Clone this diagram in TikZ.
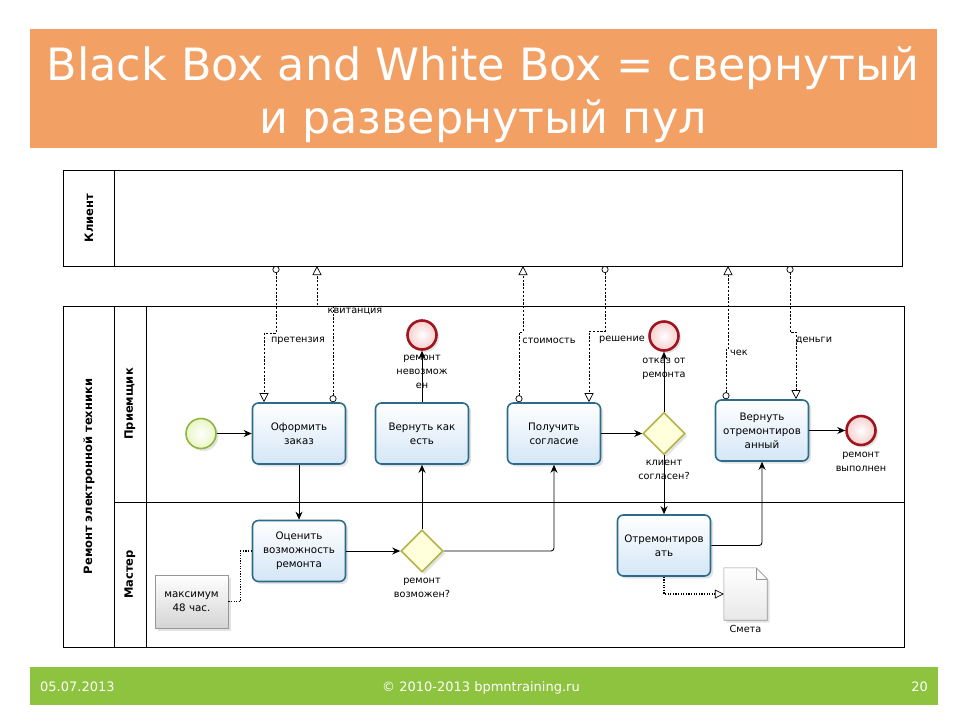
\documentclass[tikz,border=0pt]{standalone}
\usepackage{fontspec}
\setmainfont{DejaVu Sans}
\usetikzlibrary{arrows.meta,shadows,shapes.geometric,calc}
\definecolor{titleorange}{RGB}{243,160,101}
\definecolor{footgreen}{RGB}{141,195,63}
\definecolor{taskborder}{RGB}{44,108,138}
\definecolor{taskfill}{RGB}{212,230,246}
\definecolor{endborder}{RGB}{160,20,30}
\definecolor{endfill}{RGB}{246,206,206}
\definecolor{startborder}{RGB}{140,182,60}
\definecolor{startfill}{RGB}{234,246,196}
\definecolor{gwborder}{RGB}{180,180,70}
\definecolor{gwfill}{RGB}{255,255,220}
\definecolor{anngray}{RGB}{150,150,150}
\begin{document}
\begin{tikzpicture}[x=1pt,y=-1pt,
  shadowed/.style={drop shadow={opacity=0.22,shadow xshift=2.5pt,shadow yshift=-2.5pt}},
  task/.style={draw=taskborder,line width=1.6pt,rounded corners=6pt,top color=white,bottom color=taskfill,
    minimum width=93pt,minimum height=61pt,inner sep=2pt,align=center,
    font=\fontsize{10.3}{14}\selectfont,shadowed},
  endev/.style={circle,draw=endborder,line width=2.6pt,inner color=white,outer color=endfill,minimum size=29pt,inner sep=0pt,shadowed},
  startev/.style={circle,draw=startborder,line width=1.6pt,inner color=white,outer color=startfill,minimum size=30pt,inner sep=0pt,shadowed},
  gw/.style={diamond,aspect=1,draw=gwborder,line width=1.6pt,fill=gwfill,minimum width=42pt,minimum height=42pt,inner sep=0pt,shadowed},
  lbl/.style={font=\fontsize{9.7}{14}\selectfont,align=center,inner sep=1pt},
  lanelabel/.style={font=\bfseries\fontsize{11.5}{14}\selectfont,rotate=90},
  seq/.style={line width=0.9pt,-{Stealth[length=8pt,width=7pt]},rounded corners=3pt},
  msg/.style={line width=0.75pt,dash pattern=on 2.2pt off 1.6pt,
    {Circle[open,fill=white,length=7pt,width=7pt,line width=0.7pt]}-{Triangle[open,fill=white,length=9pt,width=9pt,line width=0.7pt]}},
  assoc/.style={line width=1.4pt,dash pattern=on 1.2pt off 1.4pt},
  dassoc/.style={line width=1.4pt,dash pattern=on 1.2pt off 1.4pt,-{Triangle[open,fill=white,length=9pt,width=9pt,line width=0.7pt]}},
  footer/.style={text=white,font=\fontsize{13}{15}\selectfont,inner sep=0pt},
  titletext/.style={anchor=base,text=white,font=\fontsize{44.5}{52}\selectfont,inner sep=0pt},
]
\useasboundingbox (0,0) rectangle (960,720);
\fill[white] (0,0) rectangle (960,720);

% title
\node[fill=titleorange,minimum width=907pt,minimum height=119pt,inner sep=0pt] (titlebox) at (483.5,88.5) {};
\node[titletext] (title1) at (483,80) {Black Box and White Box = свернутый};
\node[titletext] (title2) at (483,133) {и развернутый пул};

% client pool
\node[draw,line width=1pt,minimum width=839pt,minimum height=96pt,inner sep=0pt] (client) at (482.5,218) {};
\draw[line width=1pt] (114,170) -- (114,266);
\node[lanelabel] (lclient) at (89,218) {Клиент};

% main pool
\node[draw,line width=1pt,minimum width=841pt,minimum height=341pt,inner sep=0pt] (pool) at (483.5,476.5) {};
\draw[line width=1pt] (114,306) -- (114,647);
\draw[line width=0.8pt] (146,306) -- (146,647);
\draw[line width=0.8pt] (114,502) -- (904,502);
\node[lanelabel] (lpool) at (89,476.5) {Ремонт электронной техники};
\node[lanelabel] (lane1) at (130,404) {Приемщик};
\node[lanelabel] (lane2) at (130,574.5) {Мастер};

% flow objects
\node[startev] (start) at (201,433.5) {};
\node[task] (ofz) at (299,433.5) {Оформить\\заказ};
\node[task] (vke) at (422,433.5) {Вернуть как\\есть};
\node[endev] (end1) at (422,335) {};
\node[lbl,anchor=north] (lend1) at (422,354) {ремонт\\невозмож\\ен};
\node[task] (pol) at (554,433.5) {Получить\\согласие};
\node[gw] (gw2) at (664,433.5) {};
\node[lbl,anchor=north] (lgw2) at (664,459) {клиент\\согласен?};
\node[endev] (end2) at (664,336) {};
\node[lbl,anchor=north] (lend2) at (664,357) {отказ от\\ремонта};
\node[task] (vot) at (762,430.5) {Вернуть\\отремонтиров\\анный};
\node[endev] (end3) at (861,430.5) {};
\node[lbl,anchor=north] (lend3) at (861,451) {ремонт\\выполнен};
\node[task] (ocen) at (299,551) {Оценить\\возможность\\ремонта};
\node[gw] (gw1) at (422,551) {};
\node[lbl,anchor=north] (lgw1) at (422,577) {ремонт\\возможен?};
\node[task] (otr) at (664,545.5) {Отремонтиров\\ать};

% annotation
\node[draw=anngray,line width=0.6pt,top color=white,bottom color={rgb,255:red,212;green,212;blue,212},
  minimum width=73pt,minimum height=53pt,inner sep=1pt,align=center,font=\fontsize{10.3}{14}\selectfont,shadowed] (ann) at (191.5,601.5) {максимум\\48 час.};

% data object
\node[minimum width=43pt,minimum height=52pt,inner sep=0pt] (smeta) at (745.5,594) {};
\draw[draw=anngray,line width=0.6pt,top color=white,bottom color={rgb,255:red,232;green,232;blue,232},shadowed]
  (smeta.north west) -- ([xshift=-11pt]smeta.north east) -- ([yshift=-11pt]smeta.north east) -- (smeta.south east) -- (smeta.south west) -- cycle;
\draw[draw=anngray,line width=0.6pt] ([xshift=-11pt]smeta.north east) -- ([xshift=-11pt,yshift=-11pt]smeta.north east) -- ([yshift=-11pt]smeta.north east);
\node[lbl,anchor=north] (lsmeta) at (745.5,624) {Смета};

% sequence flows
\draw[seq] (start) -- (ofz);
\draw[seq] (ofz) -- (ocen);
\draw[seq] (ocen) -- (gw1);
\draw[seq] (gw1) -- (vke);
\draw[seq] (gw1.east) -| (pol.south);
\draw[seq] (vke) -- (end1);
\draw[seq] (pol) -- (gw2);
\draw[seq] (gw2) -- (end2);
\draw[seq] (gw2) -- (otr);
\draw[seq] (otr.east) -| (vot.south);
\draw[seq] (vot) -- (end3);

% associations
\draw[assoc] (ann.east) -- ++(12,0) |- (ocen.west);
\draw[dassoc] (otr.south) |- (smeta.west);

% message flows
\coordinate (cp1) at (276,266);
\coordinate (cq1) at (317,266);
\coordinate (cs1) at (523,266);
\coordinate (cr1) at (605,266);
\coordinate (cc1) at (728,266);
\coordinate (cd1) at (790,266);
\draw[msg] (cp1) -- ++(0,67) -| ([xshift=-35pt]ofz.north);
\draw[msg] ([xshift=34pt]ofz.north) -- ++(0,-96) -| (cq1);
\draw[msg] ([xshift=-35pt]pol.north) -- ++(0,-70) -| (cs1);
\draw[msg] (cr1) -- ++(0,65) -| ([xshift=35pt]pol.north);
\draw[msg] ([xshift=-36pt]vot.north) -- ++(0,-50) -| (cc1);
\draw[msg] (cd1) -- ++(0,66) -| ([xshift=34pt]vot.north);

\node[lbl] (lpret) at (298,341) {претензия};
\node[lbl] (lkvit) at (355,311) {квитанция};
\node[lbl] (lstoim) at (549,341) {стоимость};
\node[lbl] (lresh) at (622,340) {решение};
\node[lbl] (lchek) at (739,353) {чек};
\node[lbl] (lden) at (814,340) {деньги};

% footer
\node[fill=footgreen,minimum width=908pt,minimum height=38pt,inner sep=0pt] (foot) at (484,686) {};
\node[footer,anchor=base west] (fdate) at (40,691) {05.07.2013};
\node[footer,anchor=base] (fcopy) at (481,691) {© 2010-2013 bpmntraining.ru};
\node[footer,anchor=base east] (fpage) at (928,691) {20};
\end{tikzpicture}
\end{document}
